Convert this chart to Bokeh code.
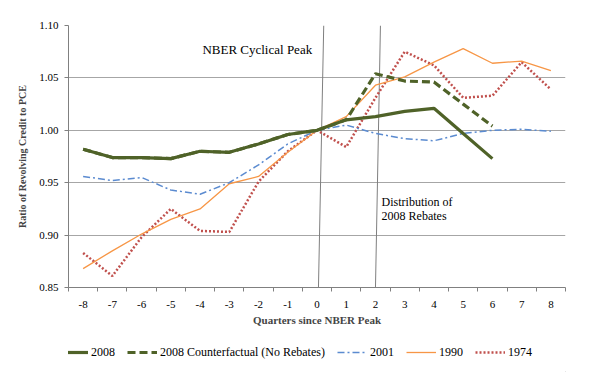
from bokeh.plotting import figure
from bokeh.layouts import column
from bokeh.models import (Range1d, FixedTicker, NumeralTickFormatter, Label, Legend,
                          LegendItem)
from bokeh.embed import file_html
from bokeh.resources import INLINE

# ---- data ----
q_2008 = [-8, -7, -6, -5, -4, -3, -2, -1, 0, 1, 2, 3, 4, 5, 6]
v_2008 = [0.982, 0.974, 0.974, 0.973, 0.980, 0.979, 0.987, 0.996, 1.000, 1.010, 1.013, 1.018, 1.021, 0.997, 0.973]

q_cf = [-8, -7, -6, -5, -4, -3, -2, -1, 0, 1, 2, 3, 4, 5, 6]
v_cf = [0.982, 0.974, 0.974, 0.973, 0.980, 0.979, 0.987, 0.996, 1.000, 1.010, 1.054, 1.047, 1.046, 1.025, 1.004]

q_2001 = [-8, -7, -6, -5, -4, -3, -2, -1, 0, 1, 2, 3, 4, 5, 6, 7, 8]
v_2001 = [0.956, 0.952, 0.955, 0.943, 0.939, 0.950, 0.967, 0.987, 1.000, 1.005, 0.997, 0.992, 0.990, 0.997, 1.000, 1.001, 0.999]

q_1990 = [-8, -7, -6, -5, -4, -3, -2, -1, 0, 1, 2, 3, 4, 5, 6, 7, 8]
v_1990 = [0.868, 0.885, 0.901, 0.915, 0.925, 0.949, 0.956, 0.979, 1.000, 1.013, 1.043, 1.051, 1.065, 1.078, 1.064, 1.066, 1.057]

q_1974 = [-8, -7, -6, -5, -4, -3, -2, -1, 0, 1, 2, 3, 4, 5, 6, 7, 8]
v_1974 = [0.883, 0.861, 0.898, 0.925, 0.904, 0.903, 0.951, 0.980, 1.000, 0.984, 1.031, 1.075, 1.062, 1.031, 1.033, 1.065, 1.039]

series_labels = ["2008", "2008 Counterfactual (No Rebates)", "2001", "1990", "1974"]

x_ticks = [-8, -7, -6, -5, -4, -3, -2, -1, 0, 1, 2, 3, 4, 5, 6, 7, 8]
x_tick_labels = ["-8", "-7", "-6", "-5", "-4", "-3", "-2", "-1", "0", "1", "2", "3", "4", "5", "6", "7", "8"]
y_ticks = [0.85, 0.90, 0.95, 1.00, 1.05, 1.10]

# event marker lines (hand-drawn, slightly slanted in the original)
peak_line = dict(x0=0.23, y0=1.10, x1=0.05, y1=0.85)
rebate_line = dict(x0=2.17, y0=1.10, x1=2.0, y1=0.85)

SERIF = "Liberation Serif"

styles = {
    "2008": dict(line_color="#4F6228", line_width=3.2),
    "2008 Counterfactual (No Rebates)": dict(line_color="#4F6228", line_width=3.2, line_dash="8 4"),
    "2001": dict(line_color="#5B8BD0", line_width=1.5, line_dash="7 3 2 3"),
    "1990": dict(line_color="#F79646", line_width=1.3),
    "1974": dict(line_color="#C0504D", line_width=2.5, line_dash="2 2"),
}
series_data = {
    "2008": (q_2008, v_2008),
    "2008 Counterfactual (No Rebates)": (q_cf, v_cf),
    "2001": (q_2001, v_2001),
    "1990": (q_1990, v_1990),
    "1974": (q_1974, v_1974),
}

p = figure(width=600, height=336, output_backend="svg", toolbar_location=None,
           x_range=Range1d(-8.5, 8.5), y_range=Range1d(0.85, 1.10),
           min_border_left=68, min_border_right=35, min_border_top=25, min_border_bottom=49)
p.outline_line_color = None
p.background_fill_color = "white"
p.border_fill_color = "white"

# axes
p.xaxis.ticker = FixedTicker(ticks=x_ticks, minor_ticks=[t + 0.5 for t in range(-9, 9)])
p.xaxis.major_label_overrides = {t: l for t, l in zip(x_ticks, x_tick_labels)}
p.xaxis.major_tick_line_color = None
p.xaxis.minor_tick_line_color = "#808080"
p.xaxis.minor_tick_in = 0
p.xaxis.minor_tick_out = 4
p.xaxis.axis_line_color = "#808080"
p.xaxis.major_label_standoff = 7
p.xaxis.major_label_text_font = SERIF
p.xaxis.major_label_text_font_size = "11px"
p.xaxis.major_label_text_color = "black"
p.xaxis.axis_label = "Quarters since NBER Peak"
p.xaxis.axis_label_text_font = SERIF
p.xaxis.axis_label_text_font_style = "bold"
p.xaxis.axis_label_text_font_size = "11px"
p.xaxis.axis_label_standoff = 3

p.yaxis.ticker = FixedTicker(ticks=y_ticks)
p.yaxis.formatter = NumeralTickFormatter(format="0.00")
p.yaxis.minor_tick_line_color = None
p.yaxis.major_tick_line_color = "#808080"
p.yaxis.major_tick_in = 0
p.yaxis.major_tick_out = 4
p.yaxis.axis_line_color = "#808080"
p.yaxis.major_label_standoff = 6
p.yaxis.major_label_text_font = SERIF
p.yaxis.major_label_text_font_size = "11px"
p.yaxis.major_label_text_color = "black"
p.yaxis.axis_label = "Ratio of Revolving Credit to PCE"
p.yaxis.axis_label_text_font = SERIF
p.yaxis.axis_label_text_font_style = "bold"
p.yaxis.axis_label_text_font_size = "10px"
p.yaxis.axis_label_standoff = 8

p.xgrid.grid_line_color = None
p.ygrid.ticker = FixedTicker(ticks=y_ticks)
p.ygrid.grid_line_color = "#a6a6a6"
p.ygrid.grid_line_width = 1

# event lines
for ln in (peak_line, rebate_line):
    p.segment(x0=[ln["x0"]], y0=[ln["y0"]], x1=[ln["x1"]], y1=[ln["y1"]],
              line_color="#7f7f7f", line_width=1)

# series (draw order as in the original)
for lab in ["1974", "1990", "2001", "2008", "2008 Counterfactual (No Rebates)"]:
    xs, ys = series_data[lab]
    p.line(xs, ys, **styles[lab])

# texts
p.add_layout(Label(x=-3.92, y=1.077, text="NBER Cyclical Peak", text_font=SERIF,
                   text_font_size="13px", text_baseline="middle", text_color="black"))
p.add_layout(Label(x=2.21, y=0.932, text="Distribution of", text_font=SERIF,
                   text_font_size="12px", text_baseline="middle", text_color="black"))
p.add_layout(Label(x=2.21, y=0.9187, text="2008 Rebates", text_font=SERIF,
                   text_font_size="12px", text_baseline="middle", text_color="black"))

# legend strip below the chart (its lines lie outside its visible range)
pl = figure(width=600, height=38, output_backend="svg", toolbar_location=None,
            x_range=Range1d(-8.5, 8.5), y_range=Range1d(0, 0.5),
            min_border=0, x_axis_type=None, y_axis_type=None)
pl.outline_line_color = None
pl.xgrid.grid_line_color = None
pl.ygrid.grid_line_color = None
items = []
for lab in series_labels:
    xs, ys = series_data[lab]
    r = pl.line(xs, ys, **styles[lab])
    items.append(LegendItem(label=lab, renderers=[r]))
legend = Legend(items=items, orientation="horizontal", location=(-10, 12))
legend.label_text_font = SERIF
legend.label_text_font_size = "12px"
legend.label_text_color = "black"
legend.glyph_width = 30
legend.label_standoff = 3
legend.spacing = 12
legend.padding = 0
legend.margin = 0
legend.border_line_color = None
legend.background_fill_alpha = 0
pl.add_layout(legend, "center")

# dotted frame around the whole chart (CSS outline, does not change the size)
layout = column(p, pl, spacing=0,
                styles={"outline": "1px dotted #9a9a9a", "outline-offset": "-3px"})
open("out.html", "w").write(file_html(layout, INLINE))
